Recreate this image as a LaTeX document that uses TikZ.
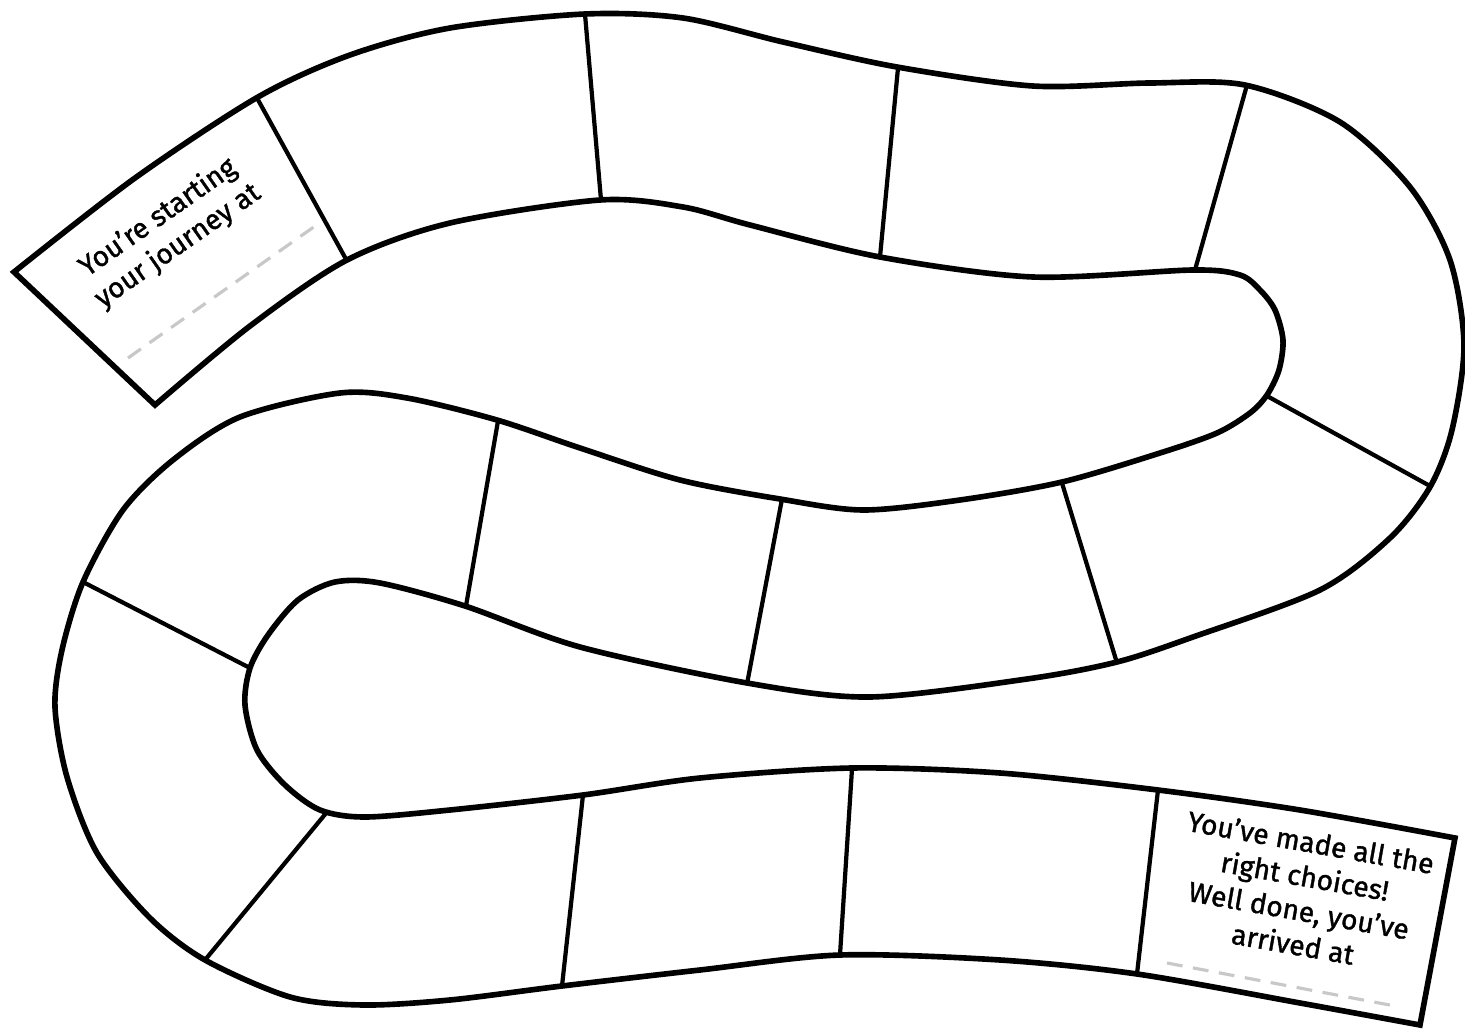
\documentclass[tikz,border=0pt]{standalone}
\usepackage{fontspec}
\setmainfont{Fira Sans}
\newfontfamily\notefont[BoldFont={Fira Sans}, BoldFeatures={FakeBold=1.3}]{Fira Sans}
\usepackage{tikz}
\definecolor{DashGrey}{HTML}{C8C8C8}
\tikzset{
  track/.style={line width=1.6pt},
  divider/.style={line width=1.2pt},
  blankline/.style={DashGrey, line width=0.9pt, dash pattern=on 4.5pt off 3pt},
  boardtext/.style={font=\notefont\bfseries\fontsize{8}{9.8}\selectfont, align=center, inner sep=0pt}
}

\begin{document}
\begin{tikzpicture}[x=0.01cm, y=-0.01cm]
    \useasboundingbox (0,0) rectangle (1465,1030);

    % Outline of the whole track
    \draw[track] plot[smooth] coordinates {(14,272) (135,178) (258,97) (350,55) (450,28) (585,14) (683,18) (783,42) (897,67) (1033,86) (1150,83) (1245,85) (1340,122) (1410,187) (1450,260) (1464,345) (1452,430) (1430,487) (1390,538) (1320,590) (1193,637) (1117,662) (1027,679) (870,697) (747,683) (580,647) (465,606) (380,583) (335,582) (298,600) (268,635) (250,668) (245,705) (257,750) (285,785) (320,810) (365,817) (450,810) (583,795) (700,778) (852,768) (1000,773) (1158,790) (1300,810) (1455,838)}
      -- plot[smooth] coordinates {(1420,1025) (1300,1003) (1137,974) (1000,960) (840,955) (700,970) (562,986) (450,1000) (363,1005) (290,997) (205,960) (150,918) (97,853) (67,777) (55,707) (62,650) (83,582) (123,510) (173,460) (240,417) (340,393) (407,398) (497,420) (580,448) (680,480) (780,499) (863,510) (960,500) (1062,482) (1160,453) (1217,433) (1250,413) (1267,395) (1279,370) (1283,340) (1275,310) (1260,290) (1240,275) (1193,270) (1033,277) (880,257) (750,225) (683,207) (600,200) (450,223) (347,260) (250,326) (155,405)}
      -- cycle;

    % Dividers between the squares
    \foreach \a/\b in {{(257,98)}/{(347,261)}, {(585,14)}/{(601,200)}, {(898,68)}/{(880,257)}, {(1247,85)}/{(1195,270)},
                       {(1267,396)}/{(1430,486)}, {(1062,483)}/{(1117,663)}, {(782,499)}/{(747,684)}, {(498,421)}/{(466,606)},
                       {(83,582)}/{(250,668)}, {(327,812)}/{(205,960)}, {(583,795)}/{(562,986)}, {(852,769)}/{(840,955)},
                       {(1158,790)}/{(1137,974)}}
      \draw[divider] \a -- \b;

    % Start square
    \node[boardtext, rotate=35] (startnote) at (168,232) {You’re starting\\your journey at};
    \draw[blankline] (128,358) -- (318,224);

    % Finish square
    \node[boardtext, rotate=-10] (finishnote) at (1302,893) {You’ve made all the\\right choices!\\Well done, you’ve\\arrived at};
    \draw[blankline] (1167,963) -- (1395,1006);

\end{tikzpicture}
\end{document}
